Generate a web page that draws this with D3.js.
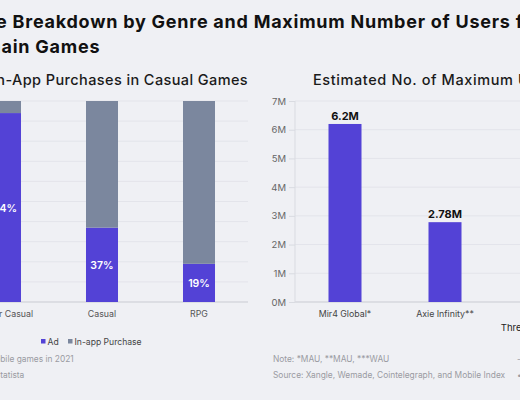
<!DOCTYPE html>
<html>
<head>
<meta charset="utf-8">
<script src="https://cdn.jsdelivr.net/npm/d3@7"></script>
<style>
  html, body { margin: 0; padding: 0; background: #eff0f4; overflow: hidden; }
  svg { display: block; font-family: Inter, "Noto Sans", sans-serif; }
</style>
</head>
<body>
<div id="chart"></div>
<script>
// Left chart: ad vs in-app purchase share by genre (%)
const genres = ["Hyper Casual", "Casual", "RPG"];
const adShare = [94, 37, 19];
const iapShare = [6, 63, 81];
const pctTicks = [0, 10, 20, 30, 40, 50, 60, 70, 80, 90, 100];

// Right chart: estimated maximum users (millions)
const games = ["Mir4 Global*", "Axie Infinity**", "Three Kingdoms***"];
const maxUsers = [6.2, 2.78, 0.9];
const userLabels = ["6.2M", "2.78M", ""];
const userTicks = [0, 1, 2, 3, 4, 5, 6, 7];

const width = 520;
const height = 400;
const adColor = "#5342d6";
const iapColor = "#7b879e";

const svg = d3.select("#chart")
  .append("svg")
  .attr("width", width)
  .attr("height", height);

svg.append("rect")
  .attr("width", width)
  .attr("height", height)
  .attr("fill", "#eff0f4");

/**
 * Title.
 */
const title = svg.append("text")
  .attr("font-size", 18)
  .attr("font-weight", 700)
  .attr("letter-spacing", 0.75)
  .attr("fill", "#111");
title.append("tspan").attr("x", -74).attr("y", 28)
  .text("Revenue Breakdown by Genre and Maximum Number of Users for");
title.append("tspan").attr("x", -74).attr("y", 53)
  .text("Blockchain Games");

/**
 * Left chart.
 */
const yPct = d3.scaleLinear().domain([0, 100]).range([302, 101]);
const xGenre = d3.scaleBand()
  .domain(genres)
  .range([-43.5, 247.5])
  .paddingInner(0.67)
  .paddingOuter(0.335);

svg.append("text")
  .attr("x", 95)
  .attr("y", 85)
  .attr("text-anchor", "middle")
  .attr("font-size", 14.5)
  .attr("font-weight", 500)
  .attr("letter-spacing", 0.4)
  .attr("fill", "#1a1a1a")
  .text("Ad vs. In-App Purchases in Casual Games");

// Gridlines
svg.append("g")
  .selectAll("line")
  .data(pctTicks)
  .join("line")
  .attr("x1", -44)
  .attr("x2", 248)
  .attr("y1", (d) => yPct(d))
  .attr("y2", (d) => yPct(d))
  .attr("stroke", (d) => (d === 0 ? "#c9cbd2" : "#e3e4ea"))
  .attr("stroke-width", 1);

// Stacked bars
const leftBars = svg.append("g");
leftBars.selectAll(".ad")
  .data(genres)
  .join("rect")
  .attr("x", (d) => xGenre(d))
  .attr("width", xGenre.bandwidth())
  .attr("y", (d, i) => yPct(adShare[i]))
  .attr("height", (d, i) => yPct(0) - yPct(adShare[i]))
  .attr("fill", adColor);
leftBars.selectAll(".iap")
  .data(genres)
  .join("rect")
  .attr("x", (d) => xGenre(d))
  .attr("width", xGenre.bandwidth())
  .attr("y", (d, i) => yPct(adShare[i] + iapShare[i]))
  .attr("height", (d, i) => yPct(adShare[i]) - yPct(adShare[i] + iapShare[i]))
  .attr("fill", iapColor);

// Ad share labels
leftBars.selectAll("text")
  .data(genres)
  .join("text")
  .attr("x", (d) => xGenre(d) + xGenre.bandwidth() / 2)
  .attr("y", (d, i) => (yPct(0) + yPct(adShare[i])) / 2 + 4)
  .attr("text-anchor", "middle")
  .attr("font-size", 10.5)
  .attr("font-weight", 600)
  .attr("fill", "#ffffff")
  .text((d, i) => `${adShare[i]}%`);

// Category labels
svg.append("g")
  .selectAll("text")
  .data(genres)
  .join("text")
  .attr("x", (d) => xGenre(d) + xGenre.bandwidth() / 2)
  .attr("y", 317)
  .attr("text-anchor", "middle")
  .attr("font-size", 8.8)
  .attr("fill", "#555")
  .text((d) => d);

// Legend
const legendItems = [
  { label: "Ad", color: adColor, x: 41 },
  { label: "In-app Purchase", color: iapColor, x: 68 },
];
const legend = svg.append("g");
legend.selectAll("rect")
  .data(legendItems)
  .join("rect")
  .attr("x", (d) => d.x)
  .attr("y", 339)
  .attr("width", 4.5)
  .attr("height", 4.5)
  .attr("fill", (d) => d.color);
legend.selectAll("text")
  .data(legendItems)
  .join("text")
  .attr("x", (d) => d.x + 6.5)
  .attr("y", 344.5)
  .attr("font-size", 8.6)
  .attr("fill", "#444")
  .text((d) => d.label);

// Notes
svg.append("text")
  .attr("x", -36)
  .attr("y", 362)
  .attr("font-size", 8.4)
  .attr("fill", "#9a9ba2")
  .text("Note: Mobile games in 2021");
svg.append("text")
  .attr("x", -38)
  .attr("y", 378)
  .attr("font-size", 8.4)
  .attr("fill", "#9a9ba2")
  .text("Source: Statista");

/**
 * Right chart.
 */
const yUsers = d3.scaleLinear().domain([0, 7]).range([302, 101]);
const xGame = d3.scaleBand()
  .domain(games)
  .range([295, 595])
  .paddingInner(0.67)
  .paddingOuter(0.335);

svg.append("text")
  .attr("x", 313)
  .attr("y", 85)
  .attr("font-size", 14.5)
  .attr("font-weight", 500)
  .attr("letter-spacing", 0.6)
  .attr("fill", "#1a1a1a")
  .text("Estimated No. of Maximum Users by Game");

// Gridlines
svg.append("g")
  .selectAll("line")
  .data(userTicks)
  .join("line")
  .attr("x1", 295)
  .attr("x2", width)
  .attr("y1", (d) => yUsers(d))
  .attr("y2", (d) => yUsers(d))
  .attr("stroke", (d) => (d === 0 ? "#c9cbd2" : "#e3e4ea"));

// Y axis
const yAxis = svg.append("g")
  .attr("transform", "translate(295,0)")
  .call(
    d3.axisLeft(yUsers)
      .tickValues(userTicks)
      .tickFormat((d) => `${d}M`)
      .tickSize(6)
      .tickPadding(3)
  );
yAxis.select(".domain").attr("stroke", "#d9dbe1").attr("d", "M0,101V302");
yAxis.selectAll(".tick line").attr("stroke", "#d9dbe1");
yAxis.selectAll(".tick text")
  .attr("font-size", 9.5)
  .attr("font-family", "Inter, sans-serif")
  .attr("fill", "#666");

// Bars
const rightBars = svg.append("g");
rightBars.selectAll("rect")
  .data(games)
  .join("rect")
  .attr("x", (d) => xGame(d))
  .attr("width", xGame.bandwidth())
  .attr("y", (d, i) => yUsers(maxUsers[i]))
  .attr("height", (d, i) => yUsers(0) - yUsers(maxUsers[i]))
  .attr("fill", adColor);
rightBars.selectAll("text")
  .data(games)
  .join("text")
  .attr("x", (d) => xGame(d) + xGame.bandwidth() / 2)
  .attr("y", (d, i) => yUsers(maxUsers[i]) - 4)
  .attr("text-anchor", "middle")
  .attr("font-size", 11)
  .attr("font-weight", 700)
  .attr("fill", "#111")
  .text((d, i) => userLabels[i]);

// Category labels (third label sits on a lower line)
svg.append("g")
  .selectAll("text")
  .data(games)
  .join("text")
  .attr("x", (d) => xGame(d) + xGame.bandwidth() / 2)
  .attr("y", (d, i) => (i === 2 ? 331 : 317))
  .attr("text-anchor", "middle")
  .attr("font-size", (d, i) => (i === 2 ? 9.5 : 8.8))
  .attr("fill", (d, i) => (i === 2 ? "#222" : "#444"))
  .text((d) => d);

// Notes
svg.append("text")
  .attr("x", 273)
  .attr("y", 362)
  .attr("font-size", 8.4)
  .attr("fill", "#9a9ba2")
  .text("Note: *MAU, **MAU, ***WAU");
svg.append("text")
  .attr("x", 273)
  .attr("y", 378)
  .attr("font-size", 8.4)
  .attr("fill", "#9a9ba2")
  .text("Source: Xangle, Wemade, Cointelegraph, and Mobile Index");
svg.append("text")
  .attr("x", 517)
  .attr("y", 362)
  .attr("font-size", 8.4)
  .attr("fill", "#9a9ba2")
  .text("- ");
svg.append("text")
  .attr("x", 517)
  .attr("y", 378)
  .attr("font-size", 8.4)
  .attr("fill", "#9a9ba2")
  .text("• ");
</script>
</body>
</html>
